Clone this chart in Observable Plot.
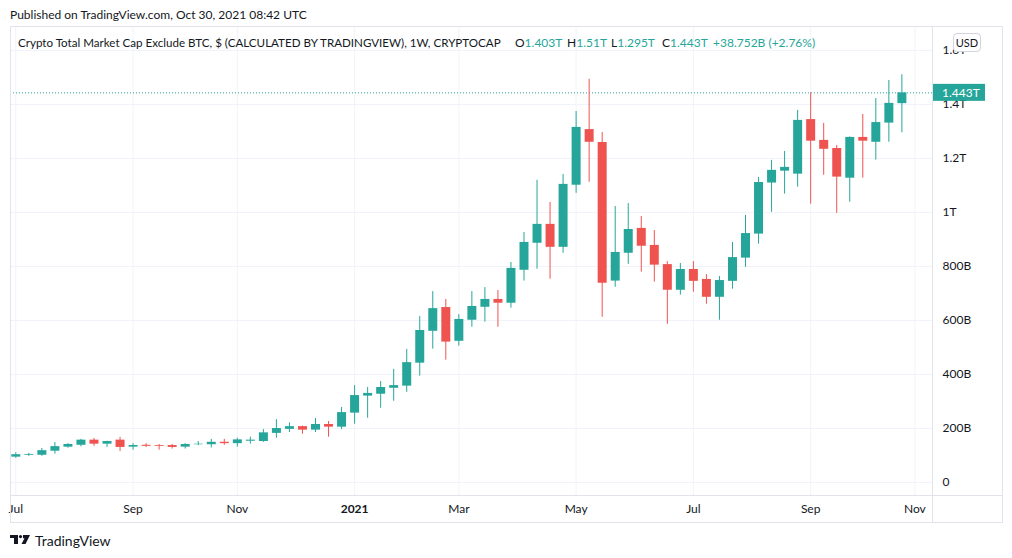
<!DOCTYPE html>
<html><head><meta charset="utf-8">
<script src="https://cdn.jsdelivr.net/npm/d3@7"></script>
<script src="https://cdn.jsdelivr.net/npm/@observablehq/plot@0.6"></script>
<style>
body{margin:0;width:1012px;height:558px;position:relative;background:#fff;font-family:Lato,"Open Sans",sans-serif;color:#131722;overflow:hidden}
.abs{position:absolute;white-space:nowrap}
#pub{left:10px;top:7px;font-size:12px}
.line{position:absolute;background:#e0e3eb}
#chart{position:absolute;left:10px;top:27px}
.leg{top:35px;font-size:12px}
.g{color:#26a69a}
#usd{left:953px;top:33px;width:26px;height:17px;border:1px solid #d1d4dc;border-radius:4px;background:#fff;font-size:11px;line-height:17px;text-align:center}
#foot{left:35px;top:532px;font-size:14px}
</style></head>
<body>
<div id="pub" class="abs">Published on TradingView.com, Oct 30, 2021 08:42 UTC</div>
<div id="chart"></div>
<div class="line" style="left:10px;top:26px;width:993px;height:1px"></div>
<div class="line" style="left:10px;top:522px;width:993px;height:1px"></div>
<div class="line" style="left:10px;top:26px;width:1px;height:497px"></div>
<div class="line" style="left:1002px;top:26px;width:1px;height:497px"></div>
<div class="line" style="left:932px;top:26px;width:1px;height:497px"></div>
<div class="line" style="left:10px;top:495px;width:993px;height:1px"></div>
<div class="abs leg" style="left:18px;font-size:11.6px;top:35.5px">Crypto Total Market Cap Exclude BTC, $ (CALCULATED BY TRADINGVIEW), 1W, CRYPTOCAP</div>
<div class="abs leg" style="left:515px">O<span class="g">1.403T</span></div>
<div class="abs leg" style="left:567px">H<span class="g">1.51T</span></div>
<div class="abs leg" style="left:611px">L<span class="g">1.295T</span></div>
<div class="abs leg" style="left:662px">C<span class="g">1.443T</span></div>
<div class="abs leg g" style="left:713px">+38.752B (+2.76%)</div>
<div id="usd" class="abs">USD</div>
<svg class="abs" style="left:10px;top:535px" width="22" height="10" viewBox="0 0 22 10">
<rect x="0" y="0" width="8" height="3" fill="#131722"/>
<rect x="4" y="0" width="4" height="9" fill="#131722"/>
<circle cx="10.5" cy="1.6" r="1.6" fill="#131722"/>
<polygon points="13,0 20,0 15.5,9 11.5,9 14.5,3.2 13,3.2" fill="#131722"/>
</svg>
<div id="foot" class="abs">TradingView</div>
<script>
const firstWeek = "2020-07-06";
const open  = [94,101,101,116,131,138,157,142,157,131,138,137,137,131,140,140,149,144,153,152,182,197,207,194,215,205,257,320,327,349,357,442,560,648,523,601,649,678,664,786,886,956,871,1101,1307,1259,746,849,941,878,807,712,789,752,686,745,831,920,1109,1153,1142,1344,1267,1237,1127,1278,1260,1331,1403];
const high  = [110,108,126,148,144,160,163,153,167,144,144,141,141,144,152,160,160,164,168,196,233,221,209,237,226,278,359,352,374,419,493,615,707,678,622,707,722,711,815,926,1119,1037,1141,1374,1493,1296,1022,1033,985,933,818,811,818,770,763,889,989,1130,1193,1226,1378,1443,1330,1248,1280,1363,1422,1489,1510];
const low   = [90,97,97,105,127,132,134,130,115,120,130,120,124,124,137,128,138,131,142,149,164,185,179,185,168,196,216,238,275,301,334,394,494,453,505,575,594,575,646,746,790,753,849,1071,1112,612,723,808,779,742,586,694,705,660,601,716,797,883,1001,1068,1094,1031,1138,997,1038,1127,1194,1260,1295];
const close = [103,104,118,133,141,157,142,152,130,137,134,134,130,141,142,149,144,158,157,184,200,207,194,215,205,259,322,330,352,359,444,563,644,520,604,652,678,664,793,889,956,871,1104,1315,1260,738,852,937,875,805,712,789,745,686,748,833,922,1111,1156,1167,1341,1264,1234,1131,1278,1264,1333,1404,1443];
const tickMonths = ["2020-07","2020-09","2020-11","2021-01","2021-03","2021-05","2021-07","2021-09","2021-11"];
const yTicks = [0,200,400,600,800,1000,1200,1400,1600];
const lastPrice = 1443;

const UP = "#26a69a", DOWN = "#ef5350", GRID = "#f0f3fa";
const start = new Date(firstWeek + "T00:00:00Z");
const weekAt = k => new Date(start.getTime() + k * 7 * 864e5);
const dates = d3.utcMonday.range(start, weekAt(open.length));
const data = dates.map((date, i) => ({date, open: open[i], high: high[i], low: low[i], close: close[i],
  dir: close[i] >= open[i] ? "up" : "down"}));
const tickDates = tickMonths.map(m => d3.utcMonday.ceil(new Date(m + "-01T00:00:00Z")));
const fmtY = v => v === 0 ? "0" : v < 1000 ? v + "B" : (v / 1000) + "T";
const fmtX = d => d.getUTCMonth() === 0 ? String(d.getUTCFullYear()) : d3.utcFormat("%b")(d);

const chart = Plot.plot({
  width: 992, height: 496,
  marginLeft: 0, marginRight: 70, marginTop: 0, marginBottom: 28,
  style: {fontFamily: "Lato, 'Open Sans', sans-serif", fontSize: "12px", color: "#131722", background: "transparent", overflow: "visible"},
  x: {type: "utc", domain: [weekAt(-0.407), weekAt(70.35)]},
  y: {domain: [-48, 1685]},
  color: {domain: ["up", "down"], range: [UP, DOWN]},
  marks: [
    Plot.gridX(tickDates, {stroke: GRID, strokeOpacity: 1}),
    Plot.gridY(yTicks, {stroke: GRID, strokeOpacity: 1}),
    Plot.axisX(tickDates, {tickSize: 0, tickPadding: 9, tickFormat: fmtX, fill: "#131722"}),
    Plot.axisY(yTicks, {anchor: "right", tickSize: 0, tickPadding: 10, tickFormat: fmtY, fill: "#131722"}),
    Plot.ruleY([lastPrice], {stroke: UP, strokeDasharray: "1,2", strokeWidth: 1}),
    Plot.ruleX(data, {x: "date", y1: "low", y2: "high", stroke: "dir", strokeWidth: 1}),
    Plot.ruleX(data, {x: "date", y1: "open", y2: "close", stroke: "dir", strokeWidth: 9})
  ]
});
document.getElementById("chart").appendChild(chart);
const svg = d3.select(chart);
svg.selectAll("text").filter(function(){ return this.textContent === "2021"; }).attr("font-weight", "bold");
const yp = chart.scale("y").apply(lastPrice);
const tag = svg.append("g").attr("text-anchor", "start");
tag.append("rect").attr("x", 923).attr("y", yp - 8.5).attr("width", 52).attr("height", 17).attr("fill", UP);
tag.append("text").attr("x", 932).attr("y", yp).attr("dy", "0.35em").attr("fill", "#fff")
  .attr("text-anchor", "start").attr("font-size", 12).attr("font-family", "Lato, sans-serif").text(fmtY(lastPrice));
</script>
</body></html>
